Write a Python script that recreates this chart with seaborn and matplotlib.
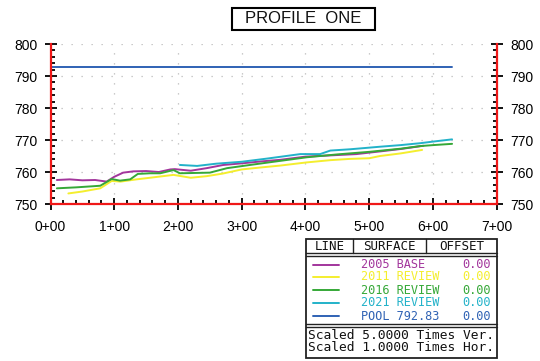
import pandas as pd
import seaborn as sns
import matplotlib.pyplot as plt
from matplotlib.ticker import MultipleLocator, FuncFormatter
from matplotlib.patches import Rectangle

# Profile data (station in 100 ft units, elevation)
base_2005_sta = [0.10, 0.30, 0.50, 0.70, 0.88, 1.00, 1.14, 1.30, 1.50, 1.70, 1.88, 1.95,
                 2.20, 2.45, 2.71, 3.00, 3.30, 3.60, 4.00, 4.40, 4.80, 5.20, 5.50, 5.85]
base_2005_el = [757.5, 757.7, 757.4, 757.5, 757.0, 758.5, 759.8, 760.2, 760.3, 760.0, 760.8, 760.9,
                760.4, 761.2, 762.2, 762.7, 763.3, 763.8, 764.8, 765.2, 765.6, 766.5, 767.2, 768.2]

rev_2011_sta = [0.28, 0.50, 0.78, 0.96, 1.10, 1.35, 1.56, 1.93, 2.20, 2.45, 2.70, 3.00,
                3.29, 3.60, 4.02, 4.39, 4.70, 5.00, 5.17, 5.49, 5.83]
rev_2011_el = [753.3, 753.9, 754.9, 757.2, 757.0, 757.7, 758.2, 759.1, 758.2, 758.7, 759.5, 760.8,
               761.4, 762.0, 763.0, 763.7, 764.1, 764.3, 765.0, 765.8, 766.9]

rev_2016_sta = [0.10, 0.40, 0.78, 0.96, 1.09, 1.25, 1.37, 1.56, 1.72, 1.93, 2.03, 2.50,
                2.77, 3.13, 3.50, 4.02, 4.50, 5.00, 5.50, 5.80, 6.00, 6.30]
rev_2016_el = [754.9, 755.2, 755.7, 757.8, 757.3, 757.7, 759.4, 759.6, 759.6, 760.6, 759.6, 759.8,
               761.2, 762.2, 763.2, 764.6, 765.5, 766.3, 767.3, 768.1, 768.4, 768.8]

rev_2021_sta = [2.03, 2.30, 2.60, 3.00, 3.40, 3.92, 4.23, 4.39, 4.70, 5.17, 5.49, 5.80, 6.00, 6.30]
rev_2021_el = [762.2, 761.9, 762.6, 763.2, 764.2, 765.6, 765.6, 766.7, 767.1, 767.9, 768.4, 769.0,
               769.5, 770.2]

pool_sta = [0.0, 6.30]
pool_el = [792.83, 792.83]

surfaces = ["2005 BASE", "2011 REVIEW", "2016 REVIEW", "2021 REVIEW", "POOL 792.83"]
offsets = ["0.00", "0.00", "0.00", "0.00", "0.00"]
colors = ["#a2359c", "#f4ee2e", "#35a837", "#22b2c9", "#2f62b4"]

frames = []
for name, s, e in zip(surfaces,
                      [base_2005_sta, rev_2011_sta, rev_2016_sta, rev_2021_sta, pool_sta],
                      [base_2005_el, rev_2011_el, rev_2016_el, rev_2021_el, pool_el]):
    frames.append(pd.DataFrame({"station": s, "elev": e, "surface": name}))
df = pd.concat(frames, ignore_index=True)

sns.set_theme(style="white")
plt.rcParams["font.family"] = ["Liberation Sans", "DejaVu Sans"]

fig = plt.figure(figsize=(5.4, 3.61), dpi=100)
ax = fig.add_axes([50.5 / 540, 1 - 204 / 361, (496.7 - 50.5) / 540, (204 - 44) / 361])

sns.lineplot(data=df, x="station", y="elev", hue="surface", palette=dict(zip(surfaces, colors)),
             estimator=None, sort=False, legend=False, linewidth=1.4, ax=ax)

ax.set_xlim(0, 7)
ax.set_ylim(750, 800)
ax.xaxis.set_major_locator(MultipleLocator(1))
ax.xaxis.set_minor_locator(MultipleLocator(0.2))
ax.yaxis.set_major_locator(MultipleLocator(10))
ax.yaxis.set_minor_locator(MultipleLocator(2))
ax.xaxis.set_major_formatter(FuncFormatter(lambda v, p: f"{int(round(v))}+00"))
ax.set_xlabel("")
ax.set_ylabel("")

ax.grid(True, which="major", color="#bbbbbb", linestyle=(0, (1, 7)), linewidth=0.9)
for side in ["left", "bottom", "right"]:
    ax.spines[side].set_color("#f01818")
    ax.spines[side].set_linewidth(1.6)
ax.spines["top"].set_visible(False)

ax.tick_params(axis="both", which="major", direction="inout", length=9, width=1.3, color="black",
               labelsize=10, labelcolor="black")
ax.tick_params(axis="both", which="minor", direction="in", length=3, width=1.3, color="black")
ax.tick_params(axis="y", which="both", left=True, right=True, labelleft=True, labelright=True, pad=5)
ax.tick_params(axis="x", which="both", bottom=True, top=False, pad=7)

# overlay axes in pixel coordinates for title box and legend table
ov = fig.add_axes([0, 0, 1, 1])
ov.set_xlim(0, 540)
ov.set_ylim(361, 0)
ov.axis("off")

ov.add_patch(Rectangle((231.5, 7.5), 143.5, 22, fill=False, edgecolor="black", linewidth=1.5))
ov.text(303, 18.8, "PROFILE  ONE", ha="center", va="center", fontsize=12, color="#111111")

mono = "DejaVu Sans Mono"
ov.add_patch(Rectangle((306, 238.5), 191, 119, fill=False, edgecolor="#222222", linewidth=1.3))
ov.plot([306, 497], [252.5, 252.5], color="#222222", lw=1)
ov.plot([306, 497], [255.5, 255.5], color="#222222", lw=1)
ov.plot([306, 497], [323.5, 323.5], color="#222222", lw=1)
ov.plot([306, 497], [326.5, 326.5], color="#222222", lw=1)
ov.plot([353.3, 353.3], [238.5, 252.5], color="#222222", lw=1)
ov.plot([426, 426], [238.5, 252.5], color="#222222", lw=1)

ov.text(329.5, 246, "LINE", ha="center", va="center", fontsize=9, family=mono, color="#111111")
ov.text(389.5, 246, "SURFACE", ha="center", va="center", fontsize=9, family=mono, color="#111111")
ov.text(461.5, 246, "OFFSET", ha="center", va="center", fontsize=9, family=mono, color="#111111")

row_y = [264.5, 277.0, 290.0, 303.0, 316.0]
for y, name, off, c in zip(row_y, surfaces, offsets, colors):
    ov.plot([313, 339], [y, y], color=c, lw=1.4)
    ov.text(361, y, name, ha="left", va="center", fontsize=8.6, family=mono, color=c)
    ov.text(491, y, off, ha="right", va="center", fontsize=8.6, family=mono, color=c)

ov.text(307.5, 335.5, "Scaled 5.0000 Times Ver.", ha="left", va="center", fontsize=9.3,
        family=mono, color="#111111")
ov.text(307.5, 347.5, "Scaled 1.0000 Times Hor.", ha="left", va="center", fontsize=9.3,
        family=mono, color="#111111")

fig.savefig("out.png", dpi=100)
